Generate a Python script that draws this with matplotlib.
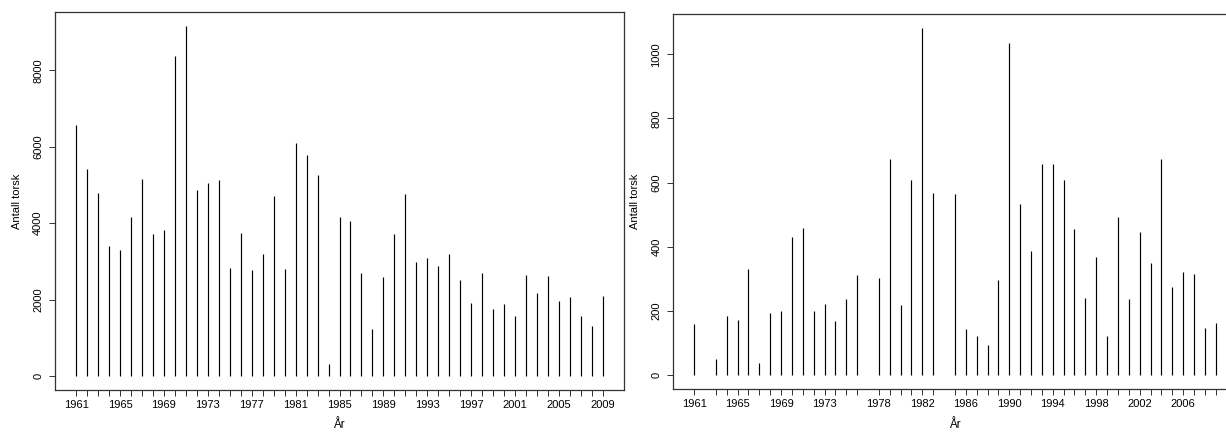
import matplotlib
matplotlib.use("Agg")
import matplotlib.pyplot as plt

plt.rcParams['font.family'] = ['Liberation Sans', 'DejaVu Sans']

# Left panel data
left_years = list(range(1961, 2010))
left_values = [6565, 5409, 4783, 3391, 3287, 4165, 5157, 3722, 3817, 8383,
               9157, 4878, 5043, 5139, 2826, 3739, 2774, 3183, 4713, 2800,
               6096, 5791, 5252, 304, 4165, 4052, 2687, 1226, 2591, 3722,
               4757, 2991, 3087, 2878, 3200, 2522, 1904, 2687, 1765, 1887,
               1574, 2635, 2165, 2617, 1957, 2070, 1574, 1313, 2096]
left_labels = [1961, 1965, 1969, 1973, 1977, 1981, 1985, 1989, 1993, 1997,
               2001, 2005, 2009]
left_yticks = [0, 2000, 4000, 6000, 8000]

# Right panel data
right_years = [1961] + list(range(1963, 1977)) + list(range(1978, 1984)) + list(range(1985, 2010))
right_values = [161,
                52, 186, 172, 331, 39, 195, 201, 431, 459, 201, 223, 170, 237, 312,
                304, 674, 220, 610, 1083, 568,
                566, 145, 123, 95, 298, 1035, 533, 388, 657, 657, 607, 457, 240,
                368, 123, 493, 238, 446, 351, 673, 276, 323, 315, 148, 164]
right_labels = [1961, 1965, 1969, 1973, 1978, 1982, 1986, 1990, 1994, 1998,
                2002, 2006]
right_yticks = [0, 200, 400, 600, 800, 1000]

xlabel = "År"
ylabel = "Antall torsk"

W, H = 1226, 432
fig = plt.figure(figsize=(W / 100, H / 100), dpi=100)

def make_axes(l, r, b, t):
    return fig.add_axes([l / W, (H - b) / H, (r - l) / W, (b - t) / H])

axL = make_axes(55, 624, 390, 12)
axR = make_axes(673.3, 1236.6, 389.3, 13.7)

def style(ax, years, values, labels, yticks, xlabel_x):
    ax.vlines(years, 0, values, color='black', linewidth=0.85)
    ymax = max(values)
    xr = years[-1] - years[0]
    ax.set_xlim(years[0] - 0.04 * xr, years[-1] + 0.04 * xr)
    ax.set_ylim(-0.04 * ymax, ymax * 1.04)
    ax.set_xticks(years)
    ax.set_xticklabels([str(y) if y in labels else '' for y in years])
    ax.set_yticks(yticks)
    ax.set_yticklabels([str(v) for v in yticks], rotation=90, va='center')
    ax.tick_params(axis='both', direction='out', length=4.5, width=0.7,
                   labelsize=8, color='#333333')
    ax.tick_params(axis='x', pad=2.5)
    ax.tick_params(axis='y', pad=4)
    for s in ax.spines.values():
        s.set_linewidth(0.9)
        s.set_color('#333333')
    ax.set_ylabel(ylabel, fontsize=8, labelpad=8)
    ax.text(xlabel_x, 425, xlabel, transform=None, fontsize=8.5,
            ha='center', va='center')

style(axL, left_years, left_values, left_labels, left_yticks, 339)
style(axR, right_years, right_values, right_labels, right_yticks, 955)

# place "År" using figure pixel coords
for t in fig.texts:
    pass
for ax, xpix in ((axL, 339), (axR, 955)):
    for txt in ax.texts:
        txt.set_transform(fig.dpi_scale_trans)
        txt.set_position((xpix / 100, (H - 425) / 100))

fig.savefig("out.png", dpi=100)
